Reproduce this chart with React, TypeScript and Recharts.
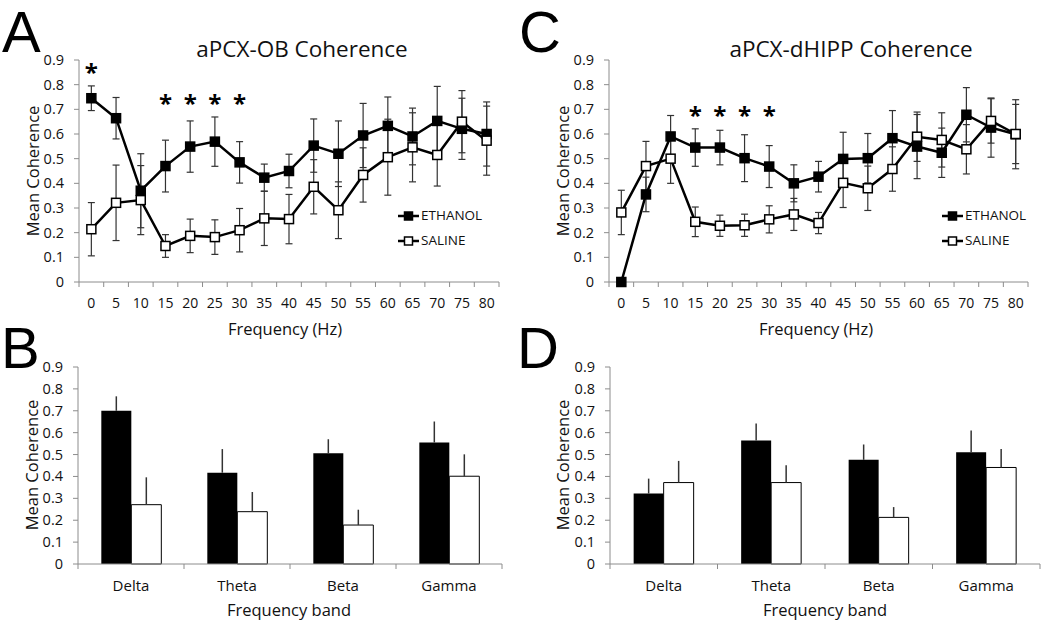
import React from 'react';
import { LineChart, Line, XAxis, YAxis, ErrorBar, BarChart, Bar, ReferenceDot, Legend } from 'recharts';

// ---------- data ----------
const FREQS = [0, 5, 10, 15, 20, 25, 30, 35, 40, 45, 50, 55, 60, 65, 70, 75, 80];
const Y_TICKS = [0, 0.1, 0.2, 0.3, 0.4, 0.5, 0.6, 0.7, 0.8, 0.9];
const SERIES_NAMES = ['ETHANOL', 'SALINE'];
const BANDS = ['Delta', 'Theta', 'Beta', 'Gamma'];

// Panel A: aPCX-OB coherence
const A_ETHANOL = [0.745, 0.664, 0.37, 0.47, 0.549, 0.569, 0.485, 0.423, 0.45, 0.553, 0.52, 0.594, 0.633, 0.59, 0.653, 0.621, 0.6];
const A_ETHANOL_ERR = [0.05, 0.084, 0.15, 0.105, 0.104, 0.1, 0.084, 0.055, 0.068, 0.108, 0.133, 0.13, 0.117, 0.115, 0.14, 0.124, 0.13];
const A_SALINE = [0.214, 0.321, 0.332, 0.146, 0.187, 0.182, 0.21, 0.258, 0.255, 0.386, 0.291, 0.434, 0.506, 0.546, 0.515, 0.65, 0.573];
const A_SALINE_ERR = [0.108, 0.153, 0.14, 0.046, 0.068, 0.07, 0.088, 0.11, 0.1, 0.11, 0.115, 0.11, 0.154, 0.14, 0.126, 0.126, 0.14];
const A_STARS = [
  { freq: 0, level: 0.85 },
  { freq: 15, level: 0.725 },
  { freq: 20, level: 0.725 },
  { freq: 25, level: 0.725 },
  { freq: 30, level: 0.725 },
];

// Panel C: aPCX-dHIPP coherence
const C_ETHANOL = [0, 0.355, 0.59, 0.545, 0.545, 0.502, 0.468, 0.4, 0.427, 0.499, 0.502, 0.583, 0.549, 0.524, 0.678, 0.626, 0.599];
const C_ETHANOL_ERR = [0, 0.07, 0.085, 0.076, 0.07, 0.095, 0.085, 0.075, 0.062, 0.108, 0.1, 0.112, 0.13, 0.1, 0.11, 0.12, 0.14];
const C_SALINE = [0.282, 0.47, 0.5, 0.244, 0.228, 0.23, 0.254, 0.274, 0.239, 0.402, 0.38, 0.458, 0.589, 0.576, 0.538, 0.653, 0.6];
const C_SALINE_ERR = [0.09, 0.1, 0.1, 0.06, 0.043, 0.045, 0.055, 0.065, 0.043, 0.1, 0.09, 0.09, 0.1, 0.11, 0.1, 0.09, 0.12];
const C_STARS = [
  { freq: 15, level: 0.675 },
  { freq: 20, level: 0.675 },
  { freq: 25, level: 0.675 },
  { freq: 30, level: 0.675 },
];

// Panel B: band means (aPCX-OB)
const B_ETHANOL = [0.7, 0.417, 0.506, 0.555];
const B_ETHANOL_ERR = [0.066, 0.108, 0.064, 0.096];
const B_SALINE = [0.271, 0.239, 0.178, 0.401];
const B_SALINE_ERR = [0.125, 0.09, 0.07, 0.1];

// Panel D: band means (aPCX-dHIPP)
const D_ETHANOL = [0.322, 0.564, 0.476, 0.511];
const D_ETHANOL_ERR = [0.068, 0.078, 0.07, 0.099];
const D_SALINE = [0.372, 0.372, 0.213, 0.441];
const D_SALINE_ERR = [0.099, 0.079, 0.047, 0.084];

// ---------- styling ----------
const FONT = '"Open Sans", sans-serif';
const LETTER_FONT = '"Liberation Sans", Arial, sans-serif';
const AXIS_GRAY = '#8c8c8c';
const TEXT = '#111';
const ERR_COLOR = '#333';

const buildLineRows = (eth: number[], ethErr: number[], sal: number[], salErr: number[]) =>
  FREQS.map((f, i) => ({ freq: f, eth: eth[i], ethErr: ethErr[i], sal: sal[i], salErr: salErr[i] }));

const buildBarRows = (eth: number[], ethErr: number[], sal: number[], salErr: number[]) =>
  BANDS.map((b, i) => ({ band: b, eth: eth[i], ethErr: [0, ethErr[i]], sal: sal[i], salErr: [0, salErr[i]] }));

const makeBoundaryTick = (halfStep: number, count: number, fontSize: number, dy: number) => (props: any) => {
  const { x, y, payload, index } = props;
  return (
    <g>
      <line x1={x - halfStep} y1={y} x2={x - halfStep} y2={y + 5} stroke={AXIS_GRAY} strokeWidth={1} />
      {index === count - 1 ? (
        <line x1={x + halfStep} y1={y} x2={x + halfStep} y2={y + 5} stroke={AXIS_GRAY} strokeWidth={1} />
      ) : null}
      <text x={x} y={y + dy} textAnchor="middle" fontSize={fontSize} fill={TEXT} fontFamily={FONT}>
        {payload.value}
      </text>
    </g>
  );
};

const YTick = (props: any) => {
  const { x, y, payload } = props;
  return (
    <text x={x} y={y + 5} textAnchor="end" fontSize={14.5} fill={TEXT} fontFamily={FONT}>
      {String(payload.value)}
    </text>
  );
};

const squareDot = (filled: boolean) => (p: any) => {
  const { cx, cy, index } = p;
  if (cx == null || cy == null) return <g key={`d-${index}`} />;
  return (
    <rect
      key={`d-${index}`}
      x={cx - 4.5}
      y={cy - 4.5}
      width={9}
      height={9}
      fill={filled ? '#000' : '#fff'}
      stroke="#000"
      strokeWidth={1.5}
    />
  );
};

const LegendContent = () => (
  <div style={{ fontFamily: FONT, fontSize: 13.5, color: TEXT, lineHeight: '25px' }}>
    {SERIES_NAMES.map((name, i) => (
      <div key={name} style={{ display: 'flex', alignItems: 'center', height: 25 }}>
        <svg width={21} height={12} style={{ marginRight: 2 }}>
          <line x1={0} y1={6} x2={21} y2={6} stroke="#000" strokeWidth={2.5} />
          <rect x={6.5} y={2} width={8} height={8} fill={i === 0 ? '#000' : '#fff'} stroke="#000" strokeWidth={1.5} />
        </svg>
        <span>{name}</span>
      </div>
    ))}
  </div>
);

type LinePanelProps = {
  left: number;
  width: number;
  yAxisWidth: number;
  marginRight: number;
  rows: any[];
  stars: { freq: number; level: number }[];
  legendLeft: number;
};

const LinePanel = ({ left, width, yAxisWidth, marginRight, rows, stars, legendLeft }: LinePanelProps) => {
  const height = 345;
  const plotWidth = width - yAxisWidth - marginRight;
  const half = plotWidth / FREQS.length / 2;
  return (
    <div style={{ position: 'absolute', left, top: 0 }}>
      <LineChart width={width} height={height} data={rows} margin={{ top: 60, right: marginRight, bottom: 33, left: 0 }}>
        <XAxis
          dataKey="freq"
          type="number"
          domain={[-2.5, 82.5]}
          ticks={FREQS}
          interval={0}
          height={30}
          tickSize={0}
          tickMargin={0}
          tickLine={false}
          axisLine={{ stroke: AXIS_GRAY, strokeWidth: 1 }}
          tick={makeBoundaryTick(half, FREQS.length, 14, 26)}
        />
        <YAxis
          type="number"
          domain={[0, 0.9]}
          ticks={Y_TICKS}
          interval={0}
          width={yAxisWidth}
          tickSize={5}
          tickMargin={10}
          axisLine={{ stroke: AXIS_GRAY, strokeWidth: 1 }}
          tickLine={{ stroke: AXIS_GRAY, strokeWidth: 1 }}
          tick={<YTick />}
        />
        <Line
          dataKey="eth"
          name={SERIES_NAMES[0]}
          stroke="#000"
          strokeWidth={2.5}
          dot={squareDot(true)}
          activeDot={false}
          isAnimationActive={false}
        >
          <ErrorBar dataKey="ethErr" direction="y" width={3.5} stroke={ERR_COLOR} strokeWidth={1.2} />
        </Line>
        <Line
          dataKey="sal"
          name={SERIES_NAMES[1]}
          stroke="#000"
          strokeWidth={2.5}
          dot={squareDot(false)}
          activeDot={false}
          isAnimationActive={false}
        >
          <ErrorBar dataKey="salErr" direction="y" width={3.5} stroke={ERR_COLOR} strokeWidth={1.2} />
        </Line>
        {stars.map((s) => (
          <ReferenceDot
            key={`star-${s.freq}`}
            x={s.freq}
            y={s.level}
            r={0}
            fill="none"
            stroke="none"
            label={{ value: '*', position: 'center', fontSize: 24, fontWeight: 700, fill: '#000', fontFamily: FONT }}
          />
        ))}
        <Legend
          layout="vertical"
          align="center"
          verticalAlign="middle"
          content={<LegendContent />}
          wrapperStyle={{ left: legendLeft, top: 203, width: 'auto', height: 'auto' }}
        />
      </LineChart>
    </div>
  );
};

type BarPanelProps = {
  left: number;
  width: number;
  yAxisWidth: number;
  marginRight: number;
  rows: any[];
};

const BarPanel = ({ left, width, yAxisWidth, marginRight, rows }: BarPanelProps) => {
  const top = 340;
  const height = 287;
  const plotWidth = width - yAxisWidth - marginRight;
  const half = plotWidth / BANDS.length / 2;
  return (
    <div style={{ position: 'absolute', left, top }}>
      <BarChart
        width={width}
        height={height}
        data={rows}
        margin={{ top: 27, right: marginRight, bottom: 33, left: 0 }}
        barCategoryGap="22%"
        barGap={0}
      >
        <XAxis
          dataKey="band"
          type="category"
          interval={0}
          height={30}
          tickSize={0}
          tickMargin={0}
          tickLine={false}
          axisLine={{ stroke: AXIS_GRAY, strokeWidth: 1 }}
          tick={makeBoundaryTick(half, BANDS.length, 15, 27)}
        />
        <YAxis
          type="number"
          domain={[0, 0.9]}
          ticks={Y_TICKS}
          interval={0}
          width={yAxisWidth}
          tickSize={5}
          tickMargin={10}
          axisLine={{ stroke: AXIS_GRAY, strokeWidth: 1 }}
          tickLine={{ stroke: AXIS_GRAY, strokeWidth: 1 }}
          tick={<YTick />}
        />
        <Bar dataKey="eth" name={SERIES_NAMES[0]} fill="#000" isAnimationActive={false}>
          <ErrorBar dataKey="ethErr" direction="y" width={0} stroke={ERR_COLOR} strokeWidth={1.5} />
        </Bar>
        <Bar dataKey="sal" name={SERIES_NAMES[1]} fill="#fff" stroke="#000" strokeWidth={1} isAnimationActive={false}>
          <ErrorBar dataKey="salErr" direction="y" width={0} stroke={ERR_COLOR} strokeWidth={1.5} />
        </Bar>
      </BarChart>
    </div>
  );
};

const Overlay = () => (
  <svg
    width={1050}
    height={627}
    style={{ position: 'absolute', left: 0, top: 0, pointerEvents: 'none', zIndex: 10 }}
  >
    <g fontFamily={LETTER_FONT} fontSize={58} fill="#000">
      <text x={2} y={52}>A</text>
      <text x={519} y={52}>C</text>
      <text x={1} y={368}>B</text>
      <text x={517} y={368}>D</text>
    </g>
    <g fontFamily={FONT} fill={TEXT}>
      <text x={302} y={57} fontSize={22.5} textAnchor="middle">aPCX-OB Coherence</text>
      <text x={851} y={57} fontSize={22.5} textAnchor="middle">aPCX-dHIPP Coherence</text>
      <text x={285} y={335} fontSize={16.5} textAnchor="middle">Frequency (Hz)</text>
      <text x={816} y={335} fontSize={16.5} textAnchor="middle">Frequency (Hz)</text>
      <text x={289} y={616} fontSize={16.5} textAnchor="middle">Frequency band</text>
      <text x={825} y={616} fontSize={16.5} textAnchor="middle">Frequency band</text>
      <text transform="translate(39 171) rotate(-90)" fontSize={16.5} textAnchor="middle">Mean Coherence</text>
      <text transform="translate(569 171) rotate(-90)" fontSize={16.5} textAnchor="middle">Mean Coherence</text>
      <text transform="translate(38 465) rotate(-90)" fontSize={16.5} textAnchor="middle">Mean Coherence</text>
      <text transform="translate(569 465) rotate(-90)" fontSize={16.5} textAnchor="middle">Mean Coherence</text>
    </g>
  </svg>
);

const A_ROWS = buildLineRows(A_ETHANOL, A_ETHANOL_ERR, A_SALINE, A_SALINE_ERR);
const C_ROWS = buildLineRows(C_ETHANOL, C_ETHANOL_ERR, C_SALINE, C_SALINE_ERR);
const B_ROWS = buildBarRows(B_ETHANOL, B_ETHANOL_ERR, B_SALINE, B_SALINE_ERR);
const D_ROWS = buildBarRows(D_ETHANOL, D_ETHANOL_ERR, D_SALINE, D_SALINE_ERR);

export default function App() {
  return (
    <div style={{ position: 'absolute', left: 0, top: 0, width: 1050, height: 627, background: '#fff', overflow: 'hidden' }}>
      <LinePanel left={0} width={525} yAxisWidth={79} marginRight={26} rows={A_ROWS} stars={A_STARS} legendLeft={398} />
      <LinePanel left={530} width={520} yAxisWidth={79} marginRight={22} rows={C_ROWS} stars={C_STARS} legendLeft={412} />
      <BarPanel left={0} width={525} yAxisWidth={78} marginRight={23} rows={B_ROWS} />
      <BarPanel left={530} width={520} yAxisWidth={80} marginRight={10} rows={D_ROWS} />
      <Overlay />
    </div>
  );
}
